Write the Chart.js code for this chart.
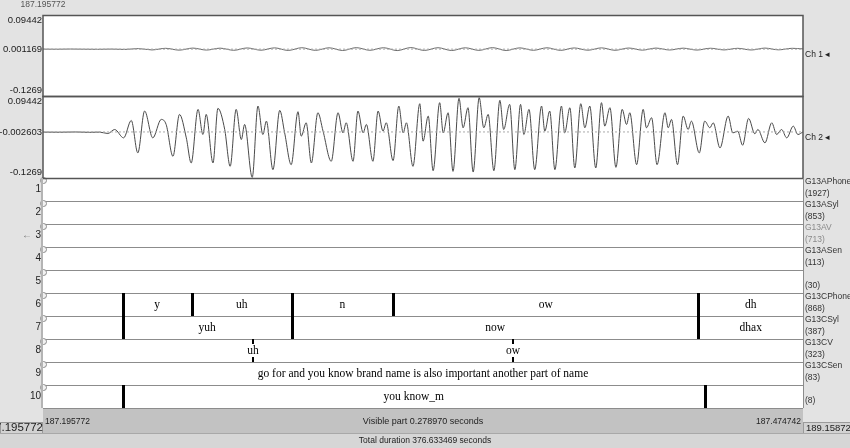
<!DOCTYPE html>
<html>
<head>
<meta charset="utf-8">
<script src="https://cdn.jsdelivr.net/npm/chart.js@4.4.1/dist/chart.umd.min.js"></script>
<style>
  html, body { margin: 0; padding: 0; background: #e3e3e3; }
  #wrap { width: 850px; height: 448px; }
</style>
</head>
<body>
<div id="wrap"><canvas id="textGridChart"></canvas></div>
<script>
// Visible window, seconds
const viewStart = 187.195772;
const viewEnd = 187.474742;
const viewStartLabel = '187.195772';
const viewEndLabel = '187.474742';
const visibleText = 'Visible part 0.278970 seconds';
const totalText = 'Total duration 376.633469 seconds';
const afterLabel = '189.158727';

// Channel axes: top, middle, bottom
const ch1TickValues = [0.09442, 0.001169, -0.1269];
const ch1TickLabels = ['0.09442', '0.001169', '-0.1269'];
const ch2TickValues = [0.09442, -0.002603, -0.1269];
const ch2TickLabels = ['0.09442', '-0.002603', '-0.1269'];

// Channel 1 (nearly silent), ms after view start
const ch1Ms = [0, 5, 10, 15, 20, 25, 30, 35, 40, 45, 50, 55, 60, 65, 70, 75, 80, 85, 90, 95,
  100, 105, 110, 115, 120, 125, 130, 135, 140, 145, 150, 155, 160, 165, 170, 175, 180, 185, 190, 195,
  200, 205, 210, 215, 220, 225, 230, 235, 240, 245, 250, 255, 260, 265, 270, 275, 279];
const ch1Amp = [0.0012, 0.0009, 0.0014, 0.0010, 0.0007, 0.0013, 0.0004, 0.0026, -0.0010, 0.0034,
  -0.0016, 0.0040, -0.0014, 0.0038, -0.0020, 0.0044, -0.0018, 0.0046, -0.0024, 0.0050,
  -0.0022, 0.0048, -0.0026, 0.0052, -0.0020, 0.0050, -0.0028, 0.0054, -0.0024, 0.0050,
  -0.0026, 0.0048, -0.0022, 0.0052, -0.0026, 0.0046, -0.0020, 0.0048, -0.0022, 0.0044,
  -0.0018, 0.0046, -0.0020, 0.0042, -0.0016, 0.0040, -0.0012, 0.0038, -0.0014, 0.0036,
  -0.0010, 0.0034, -0.0012, 0.0040, -0.0008, 0.0034, 0.0018];

// Channel 2 extrema, ms after view start
const ch2Ms = [0, 6, 12, 17, 20.8, 23.8, 26.3, 29.6, 32.4, 34.8,
  37.3, 40.3, 43.4, 45.2, 47.7, 50.1, 52.6, 54.4, 56.9, 58.7,
  59.9, 62.4, 64.2, 66.7, 68.7, 70.9, 72.8, 74.0, 76.8, 78.9,
  80.7, 82.0, 84.4, 86.9, 88.7, 91.1, 93.6, 94.8, 96.6, 98.5,
  100.9, 102.8, 105.8, 108.3, 110.1, 111.3, 113.8, 115.6, 117.5, 118.7,
  121.1, 123.0, 124.8, 126.0, 128.5, 130.6, 132.2, 133.4, 135.8, 138.3,
  139.5, 141.4, 143.2, 145.6, 146.9, 148.7, 150.5, 152.7, 154.2, 156.0,
  157.9, 160.1, 161.8, 163.4, 165.5, 167.7, 169.1, 171.3, 173.2, 175.3,
  176.5, 178.4, 180.5, 183.0, 184.2, 186.0, 187.9, 190.3, 191.5, 193.4,
  195.2, 197.4, 198.9, 200.7, 202.9, 205.0, 206.2, 208.1, 210.3, 212.6,
  214.2, 215.4, 217.9, 220.3, 221.5, 223.4, 225.4, 228.3, 229.5, 230.7,
  232.9, 235.0, 236.8, 238.0, 240.9, 242.9, 244.8, 246.0, 248.5, 251.5,
  253.2, 255.0, 256.8, 259.0, 261.3, 262.4, 265.0, 267.5, 269.3, 271.1,
  273.0, 275.4, 277.1, 279.0];
const ch2Amp = [-0.0030, -0.0033, -0.0027, -0.0036, -0.0030, -0.0068, 0.0040, -0.0186, 0.0284, -0.0592,
  0.0538, -0.0186, 0.0312, 0.0176, -0.0683, 0.0447, -0.0186, -0.0864, 0.0583, -0.0095,
  0.0447, -0.0864, 0.0610, 0.0040, -0.0954, 0.0583, -0.0231, 0.0176, -0.1252, 0.0673,
  -0.0095, 0.0266, -0.1044, 0.0556, -0.0050, -0.0909, 0.0520, -0.0140, 0.0221, -0.0864,
  0.0492, -0.0005, -0.0818, 0.0492, -0.0050, 0.0221, -0.0818, 0.0538, -0.0050, 0.0176,
  -0.0818, 0.0538, -0.0005, 0.0221, -0.0800, 0.0673, -0.0050, 0.0221, -0.0954, 0.0736,
  -0.0276, 0.0402, -0.1072, 0.0764, -0.0050, 0.0492, -0.1090, 0.0881, 0.0086, 0.0628,
  -0.1108, 0.0899, 0.0086, 0.0447, -0.1072, 0.0827, 0.0040, 0.0718, -0.1044, 0.0718,
  -0.0095, 0.0583, -0.1044, 0.0673, -0.0005, 0.0538, -0.1044, 0.0673, -0.0050, 0.0628,
  -0.0999, 0.0736, 0.0086, 0.0673, -0.0999, 0.0764, 0.0131, 0.0628, -0.0981, 0.0583,
  0.0176, 0.0492, -0.0909, 0.0583, 0.0086, 0.0357, -0.0909, 0.0492, 0.0086, 0.0312,
  -0.0909, 0.0402, 0.0040, 0.0266, -0.0592, 0.0266, 0.0086, 0.0221, -0.0457, 0.0402,
  -0.0050, -0.0005, -0.0384, 0.0339, -0.0077, 0.0040, -0.0321, 0.0221, -0.0095, 0.0040,
  -0.0186, 0.0131, -0.0095, -0.0023];

// Tiers
const tierNames = ['G13APhone', 'G13ASyl', 'G13AV', 'G13ASen', '', 'G13CPhone', 'G13CSyl', 'G13CV', 'G13CSen', ''];
const tierCounts = ['(1927)', '(853)', '(713)', '(113)', '(30)', '(868)', '(387)', '(323)', '(83)', '(8)'];

const phoneBounds = [187.224973, 187.250318, 187.287048, 187.324330, 187.436358];
const phoneLabels = ['', 'y', 'uh', 'n', 'ow', 'dh'];
const sylBounds = [187.224973, 187.287048, 187.436358];
const sylLabels = ['', 'yuh', 'now', 'dhax'];
const vowelPoints = [187.272723, 187.368222];
const vowelLabels = ['uh', 'ow'];
const sentenceBounds = [];
const sentenceLabels = ['go for and you know brand name is also important another part of name'];
const lastBounds = [187.224973, 187.438743];
const lastLabels = ['', 'you know_m', ''];

// tier index -> contents
const intervalTiers = { 5: [phoneBounds, phoneLabels], 6: [sylBounds, sylLabels], 8: [sentenceBounds, sentenceLabels], 9: [lastBounds, lastLabels] };
const pointTiers = { 7: [vowelPoints, vowelLabels] };

const SANS = '"Liberation Sans", Arial, sans-serif';
const SERIF = '"Liberation Serif", "Times New Roman", serif';

function paneAxis(min, max, stackWeight, weight) {
  return {
    type: 'linear', position: 'left', stack: 'panes', stackWeight: stackWeight, weight: weight,
    min: min, max: max,
    grid: { display: false }, border: { display: false }, ticks: { display: false },
    afterFit: s => { s.width = 43; }
  };
}

const scales = {
  x: { type: 'linear', min: viewStart, max: viewEnd, display: false },
  ch1: paneAxis(-0.1269, 0.09442, 81, 20),
  ch2: paneAxis(-0.1269, 0.09442, 82, 19)
};
tierNames.forEach((n, i) => { scales['t' + (i + 1)] = paneAxis(0, 1, 23, 10 - i); });

function wave(ms, amp) {
  return ms.map((m, i) => ({ x: viewStart + m / 1000, y: amp[i] }));
}

const praatPlugin = {
  id: 'praatTextGrid',
  beforeDraw(chart) {
    const { ctx, chartArea: a } = chart;
    ctx.save();
    ctx.fillStyle = '#e3e3e3';
    ctx.fillRect(0, 0, chart.width, chart.height);
    ctx.fillStyle = '#ffffff';
    ctx.fillRect(a.left, a.top, a.right - a.left, a.bottom - a.top);
    ctx.restore();
  },
  afterDatasetsDraw(chart) {
    const { ctx, chartArea: a, scales: sc } = chart;
    const px = t => sc.x.getPixelForValue(t);
    ctx.save();

    // tiers
    tierNames.forEach((name, i) => {
      const s = sc['t' + (i + 1)];
      const top = Math.round(s.top);
      const bottom = Math.round(s.bottom);
      const mid = (top + bottom) / 2;
      ctx.fillStyle = '#8c8c8c';
      ctx.fillRect(a.left, top, a.right - a.left, 1);

      ctx.fillStyle = '#000';
      ctx.font = '11.5px ' + SERIF;
      ctx.textAlign = 'center';
      ctx.textBaseline = 'middle';
      if (intervalTiers[i]) {
        const [bounds, labels] = intervalTiers[i];
        const edges = [viewStart, ...bounds, viewEnd];
        labels.forEach((lab, j) => {
          if (lab) ctx.fillText(lab, (px(edges[j]) + px(edges[j + 1])) / 2, mid);
        });
        bounds.forEach(t => {
          const p = Math.round(px(t));
          ctx.fillRect(p - 1, top, 3, bottom - top);
        });
      }
      if (pointTiers[i]) {
        const [points, labels] = pointTiers[i];
        points.forEach((t, j) => {
          const p = Math.round(px(t));
          ctx.fillRect(p - 1, top, 2, 5);
          ctx.fillRect(p - 1, bottom - 5, 2, 5);
          ctx.fillText(labels[j], p, mid);
        });
      }

      // tier number + circle
      ctx.font = '10px ' + SANS;
      ctx.textAlign = 'right';
      ctx.fillStyle = '#222';
      ctx.fillText(String(i + 1), 41, top + 11);
      if (i === 2) {
        ctx.fillStyle = '#777';
        ctx.fillText('\u2190', 32, top + 11);
      }
      ctx.beginPath();
      ctx.arc(a.left + 0.5, top + 2.5, 3, 0, Math.PI * 2);
      ctx.fillStyle = '#f2f2f2';
      ctx.fill();
      ctx.strokeStyle = '#8c8c8c';
      ctx.lineWidth = 1;
      ctx.stroke();

      // right labels
      ctx.font = '8.5px ' + SANS;
      ctx.textAlign = 'left';
      ctx.fillStyle = i === 2 ? '#8a8a8a' : '#333';
      if (name) ctx.fillText(name, a.right + 2, top + 4);
      ctx.fillText(tierCounts[i], a.right + 2, top + 15.5);
    });

    // channel frames and labels
    [['ch1', ch1TickValues, ch1TickLabels, 'Ch 1'], ['ch2', ch2TickValues, ch2TickLabels, 'Ch 2']].forEach(([id, vals, labs, chName]) => {
      const s = sc[id];
      ctx.strokeStyle = '#555';
      ctx.lineWidth = 1.5;
      ctx.strokeRect(a.left, Math.round(s.top) + 0.5, a.right - a.left, Math.round(s.bottom - s.top));
      ctx.font = '9.5px ' + SANS;
      ctx.fillStyle = '#222';
      ctx.textAlign = 'right';
      ['top', 'middle', 'bottom'].forEach((bl, j) => {
        ctx.textBaseline = bl;
        const y = s.getPixelForValue(vals[j]) + (j === 0 ? 1 : j === 2 ? -1 : 0);
        ctx.fillText(labs[j], a.left - 1, y);
      });
      ctx.textBaseline = 'middle';
      ctx.textAlign = 'left';
      ctx.font = '8.5px ' + SANS;
      const cy = s.getPixelForValue(vals[1]) + 6;
      ctx.fillText(chName, a.right + 2, cy);
      ctx.fillText('\u25C2', a.right + 22, cy);
    });

    // side borders of the tier area
    ctx.fillStyle = '#b4b4b4';
    ctx.fillRect(a.left - 2, sc.t1.top, 2, a.bottom - sc.t1.top);
    ctx.fillStyle = '#8c8c8c';
    ctx.fillRect(a.right, sc.t1.top, 1, a.bottom - sc.t1.top);

    // top time label
    ctx.font = '8.5px ' + SANS;
    ctx.fillStyle = '#555';
    ctx.textAlign = 'center';
    ctx.textBaseline = 'middle';
    ctx.fillText(viewStartLabel, a.left, 5);

    // bottom bars
    const rowTop = a.bottom;
    const rowBottom = rowTop + 25;
    ctx.fillStyle = '#c2c2c2';
    ctx.fillRect(a.left, rowTop, a.right - a.left, rowBottom - rowTop);
    ctx.fillStyle = '#8c8c8c';
    ctx.fillRect(a.left, rowTop, a.right - a.left, 1);
    ctx.fillStyle = '#222';
    ctx.font = '8.5px ' + SANS;
    ctx.textAlign = 'left';
    ctx.fillText(viewStartLabel, a.left + 2, rowTop + 14);
    ctx.textAlign = 'center';
    ctx.font = '9px ' + SANS;
    ctx.fillText(visibleText, (a.left + a.right) / 2, rowTop + 14);
    ctx.font = '8.5px ' + SANS;
    ctx.textAlign = 'right';
    ctx.fillText(viewEndLabel, a.right - 2, rowTop + 14);

    // left and right parts
    const boxTop = rowTop + 14;
    ctx.fillStyle = '#d2d2d2';
    ctx.fillRect(0, boxTop, a.left, rowBottom - boxTop);
    ctx.fillRect(a.right, boxTop, chart.width - a.right, rowBottom - boxTop);
    ctx.strokeStyle = '#9a9a9a';
    ctx.lineWidth = 1;
    ctx.strokeRect(0.5, boxTop + 0.5, a.left - 1, rowBottom - boxTop);
    ctx.strokeRect(a.right + 0.5, boxTop + 0.5, chart.width - a.right, rowBottom - boxTop);
    ctx.fillStyle = '#222';
    ctx.save();
    ctx.beginPath();
    ctx.rect(0, boxTop, a.left, rowBottom - boxTop);
    ctx.clip();
    ctx.font = '11.5px ' + SANS;
    ctx.textAlign = 'right';
    ctx.fillText(viewStartLabel, a.left, boxTop + 6);
    ctx.restore();
    ctx.font = '9.5px ' + SANS;
    ctx.textAlign = 'left';
    ctx.fillText(afterLabel, a.right + 3, boxTop + 6);

    // total duration row
    ctx.fillStyle = '#d6d6d6';
    ctx.fillRect(0, rowBottom, chart.width, chart.height - rowBottom);
    ctx.fillStyle = '#a8a8a8';
    ctx.fillRect(0, rowBottom, chart.width, 1);
    ctx.fillStyle = '#222';
    ctx.font = '8.5px ' + SANS;
    ctx.textAlign = 'center';
    ctx.fillText(totalText, chart.width / 2, rowBottom + 8);

    ctx.restore();
  }
};

new Chart(document.getElementById('textGridChart'), {
  type: 'line',
  data: {
    datasets: [
      { data: [{ x: viewStart, y: ch1TickValues[1] }, { x: viewEnd, y: ch1TickValues[1] }], yAxisID: 'ch1',
        borderColor: '#aaa', borderWidth: 1, borderDash: [2, 2], pointRadius: 0 },
      { data: [{ x: viewStart, y: ch2TickValues[1] }, { x: viewEnd, y: ch2TickValues[1] }], yAxisID: 'ch2',
        borderColor: '#aaa', borderWidth: 1, borderDash: [2, 2], pointRadius: 0 },
      { data: wave(ch1Ms, ch1Amp), yAxisID: 'ch1', borderColor: '#6a6a6a', borderWidth: 1,
        pointRadius: 0, cubicInterpolationMode: 'monotone' },
      { data: wave(ch2Ms, ch2Amp), yAxisID: 'ch2', borderColor: '#4a4a4a', borderWidth: 1,
        pointRadius: 0, cubicInterpolationMode: 'monotone' }
    ]
  },
  options: {
    responsive: true,
    maintainAspectRatio: false,
    animation: false,
    layout: { padding: { left: 0, right: 47, top: 15, bottom: 40 } },
    plugins: { legend: { display: false }, tooltip: { enabled: false } },
    scales: scales
  },
  plugins: [praatPlugin]
});
</script>
</body>
</html>
